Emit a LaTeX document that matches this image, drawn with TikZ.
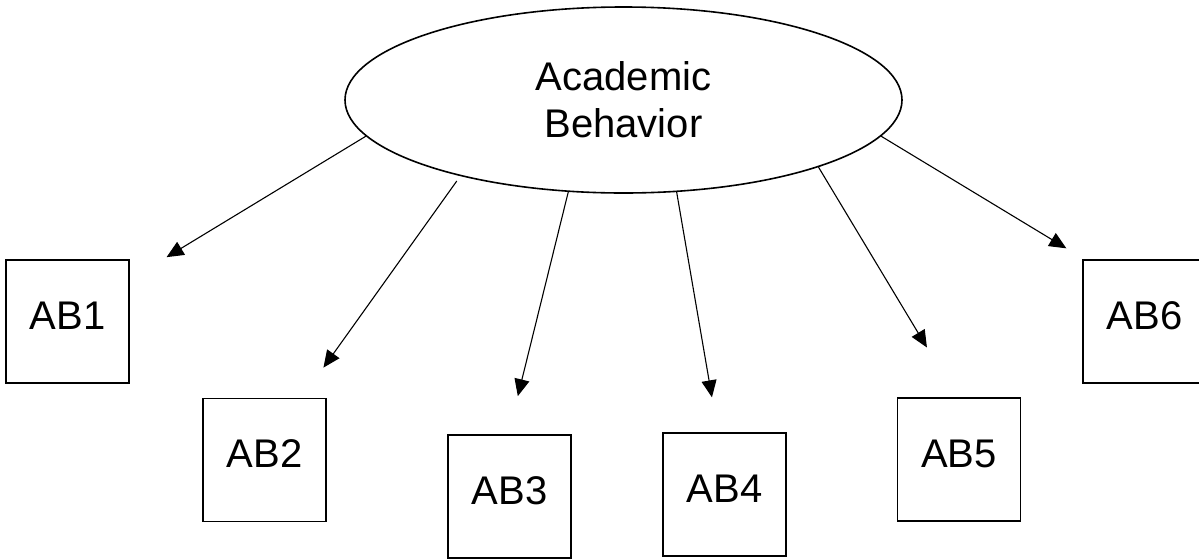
\documentclass[tikz,border=0pt]{standalone}
\usepackage{fontspec}
\setmainfont{Liberation Sans}
\usepackage{tikz}
\usetikzlibrary{shapes.geometric, arrows.meta, positioning}
\tikzset{
  itembox/.style={rectangle, draw=black, line width=0.8pt, minimum size=61.5pt,
              inner sep=0pt, text depth=6pt, font=\fontsize{20}{24}\selectfont},
  factor/.style={ellipse, draw=black, line width=0.8pt, minimum width=278.5pt,
              minimum height=93pt, inner sep=0pt, align=center,
              font=\fontsize{20}{23.5}\selectfont},
  arrow/.style={-{Triangle[length=8.5pt, width=7.5pt]}, line width=0.55pt, color=black},
}

\begin{document}
\begin{tikzpicture}[x=0.5pt, y=-0.5pt]
  \fill[white] (0,0) rectangle (1199,558);
  \useasboundingbox (0,0) rectangle (1199,558);

  \node[factor] (acad) at (623.5,100) {Academic\\Behavior};

  \node[itembox] (ab1) at (67.5,321.5) {AB1};
  \node[itembox] (ab2) at (264.5,460) {AB2};
  \node[itembox] (ab3) at (509.5,496.5) {AB3};
  \node[itembox] (ab4) at (724.5,494.5) {AB4};
  \node[itembox] (ab5) at (959,459.5) {AB5};
  \node[itembox] (ab6) at (1144.5,321.5) {AB6};

  \draw[arrow, shorten >=21.5pt] (acad.188.8) -- (ab1.34);
  \draw[arrow, shorten <=3pt, shorten >=18.5pt] (acad.205) -- (ab2.59.9);
  \draw[arrow, shorten >=19.6pt] (acad.239.1) -- (ab3.91.8);
  \draw[arrow, shorten >=17.7pt] (acad.300.3) -- (ab4.96.3);
  \draw[arrow, shorten >=29pt] (acad.341) -- (ab5.92.4);
  \draw[arrow, shorten >=10.5pt] (acad.352.1) -- (ab6.134.1);
\end{tikzpicture}
\end{document}
